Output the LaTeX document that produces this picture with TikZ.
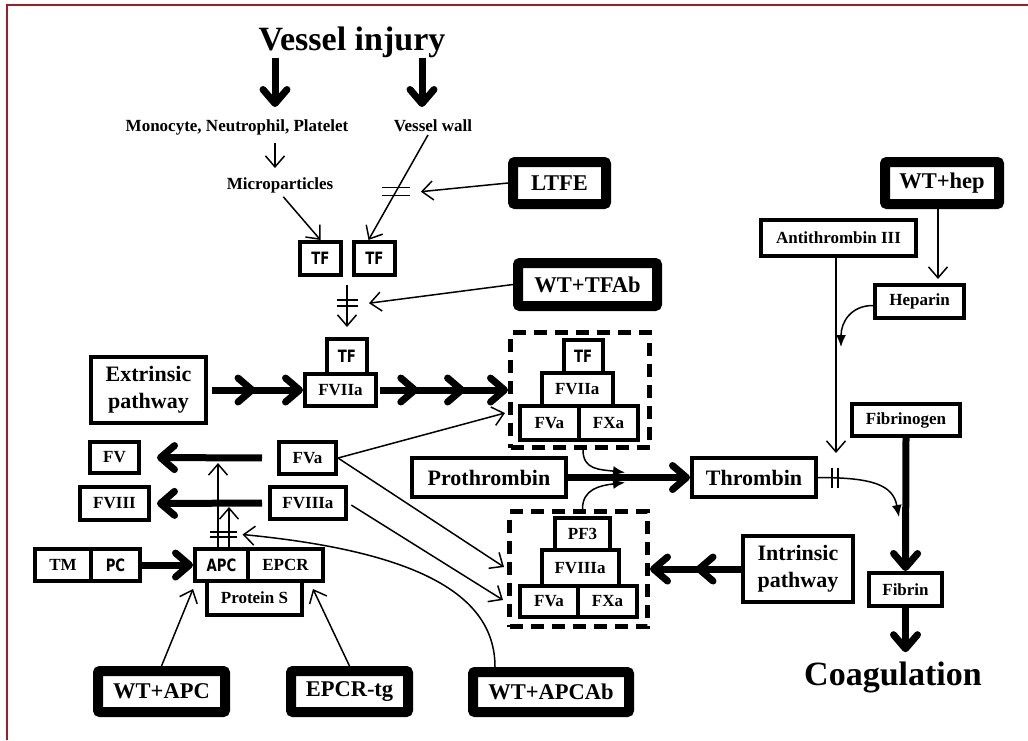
\documentclass[tikz,border=0pt]{standalone}
\usepackage{fontspec}
\setmainfont{Liberation Serif}
\setsansfont{Liberation Sans}
\newfontfamily\heavysf{DejaVu Sans}
\usepackage{graphicx}
\usetikzlibrary{arrows.meta,calc,decorations.markings}
\definecolor{framered}{RGB}{160,28,38}
\newcommand{\cnd}[1]{\scalebox{0.78}[1]{\fontsize{17}{20}\selectfont\heavysf\bfseries #1}}
\tikzset{
  box/.style={draw, line width=4pt, inner sep=0pt, font=\fontsize{17}{20}\selectfont\bfseries},
  bigbox/.style={box, align=center, font=\fontsize{22}{27}\selectfont\bfseries},
  drug/.style={draw, line width=10pt, rounded corners=2pt, inner sep=0pt, font=\fontsize{22.5}{26}\selectfont\bfseries},
  cplx/.style={draw, line width=5pt, dash pattern=on 13pt off 8pt, inner sep=0pt},
  sz/.style 2 args={minimum width=#1pt, minimum height=#2pt},
  lbl/.style={inner sep=0pt, text height=12pt, text depth=3.5pt, font=\fontsize{17}{20}\selectfont\bfseries},
  headline/.style={inner sep=0pt, font=\fontsize{34}{40}\selectfont\bfseries},
  arr/.style={line width=1.5pt, -{Straight Barb[length=11pt,width=19pt]}},
  bigarr/.style={line width=7pt, -{Straight Barb[length=14pt,width=24pt,round]}},
  curvarr/.style={line width=1.5pt, -{Latex[length=12pt,width=10pt]}},
  midtip/.style={postaction={decorate, decoration={markings,
      mark=at position #1 with {\arrow{Straight Barb[length=14pt,width=24pt,round]}}}}},
  cutbar/.style={line width=1.5pt},
}

\begin{document}
\begin{tikzpicture}[x=1pt, y=-1pt]
  \useasboundingbox (0,0) rectangle (1028,740);
  \draw[framered, line width=2.5pt] (7,740) -- (7,5) -- (1028,5);

  % vessel injury
  \node[headline, anchor=base] (injury) at (352,50) {Vessel injury};
  \node[lbl] (mono) at (237,127) {Monocyte, Neutrophil, Platelet};
  \node[lbl] (wall) at (433,127) {Vessel wall};
  \node[lbl] (micro) at (280,185) {Microparticles};
  \node[box, sz={41}{33}] (TFa) at (320.5,258.5) {\cnd{TF}};
  \node[box, sz={41}{33}] (TFb) at (374.5,258.5) {\cnd{TF}};
  \node[drug, sz={93}{42}] (LTFE) at (559.5,183) {LTFE};
  \node[drug, sz={139}{43}] (WTTFAb) at (587.5,284.5) {WT+TFAb};

  % extrinsic
  \node[box, sz={40}{35}] (TFc) at (347,356.5) {\cnd{TF}};
  \node[box, sz={71}{32}] (FVIIa) at (340.5,390) {FVIIa};
  \node[bigbox, sz={115}{66}] (Extr) at (148.5,390) {Extrinsic\\pathway};

  \node[cplx, sz={139}{115}] (cplxA) at (580,390) {};
  \node[box, sz={39.5}{33}] (cTF) at (583.25,356.5) {\cnd{TF}};
  \node[box, sz={70.5}{33}] (cFVIIa) at (577.25,389.5) {FVIIa};
  \node[box, sz={59.4}{34}] (cFVaA) at (549.3,423) {FVa};
  \node[box, sz={59}{34}] (cFXaA) at (608.5,423) {FXa};

  \node[cplx, sz={138}{115}] (cplxB) at (578.5,569) {};
  \node[box, sz={55.7}{32}] (cPF3) at (582.5,534) {PF3};
  \node[box, sz={76.8}{36}] (cFVIIIa) at (580.1,568) {FVIIIa};
  \node[box, sz={58.7}{31}] (cFVaB) at (549,601.5) {FVa};
  \node[box, sz={58.5}{31}] (cFXaB) at (607.5,601.5) {FXa};

  % protein C side
  \node[box, sz={57}{32}] (FVa) at (307.5,458) {FVa};
  \node[box, sz={76}{32}] (FVIIIa) at (308,503) {FVIIIa};
  \node[box, sz={49}{31}] (FV) at (114.5,457.5) {FV};
  \node[box, sz={69}{33}] (FVIII) at (114.5,503.5) {FVIII};
  \node[box, sz={56}{32}] (TM) at (63,565) {TM};
  \node[box, sz={49}{32}] (PC) at (115.5,565) {\cnd{PC}};
  \node[box, sz={53}{32}] (APC) at (221.5,565) {\cnd{APC}};
  \node[box, sz={75}{32}] (EPCR) at (285.5,565) {EPCR};
  \node[box, sz={95}{34}] (ProtS) at (254.5,598) {Protein S};
  \node[drug, sz={127}{41}] (WTAPC) at (161.5,691.5) {WT+APC};
  \node[drug, sz={117}{41}] (EPCRtg) at (349.5,691.5) {EPCR-tg};
  \node[drug, sz={156}{40}] (WTAPCAb) at (551,692) {WT+APCAb};

  % thrombin side
  \node[bigbox, sz={154}{39}] (Prothr) at (489,477.5) {Prothrombin};
  \node[bigbox, sz={124}{39}] (Thromb) at (754,477.5) {Thrombin};
  \node[bigbox, sz={110}{66}] (Intr) at (798,569) {Intrinsic\\pathway};
  \node[drug, sz={114}{42}] (WThep) at (942,183) {WT+hep};
  \node[box, sz={155}{36}] (AntiIII) at (838.5,238) {Antithrombin III};
  \node[box, sz={89}{33}] (Heparin) at (919.5,301.5) {Heparin};
  \node[box, sz={108}{32}] (Fbgn) at (906,420) {Fibrinogen};
  \node[box, sz={73}{33}] (Fibrin) at (905.5,589.5) {Fibrin};
  \node[headline, anchor=base] (coag) at (893,685) {Coagulation};

  \coordinate (vL) at (275,107);
  \coordinate (vR) at (422,107);
  \draw[bigarr] (injury.south -| vL) -- (vL);
  \draw[bigarr] (injury.south -| vR) -- (vR);
  \draw[arr, shorten <=8pt, shorten >=9pt] (mono.south -| vL) -- (micro.north -| vL);
  \draw[arr, shorten <=5pt] (micro.south) -- (TFa.north);
  \draw[arr] ([xshift=-5pt]wall.south) -- coordinate[pos=0.54] (cutwall) ([xshift=-6pt]TFb.north);
  \draw[cutbar] ($(cutwall)+(-14,-4)$) -- ++(28,0) ($(cutwall)+(-14,4)$) -- ++(28,0);
  \draw[arr] (LTFE.west) -- ([xshift=25pt]cutwall);

  \draw[arr, shorten >=10pt] ($(TFa.south -| TFc.north)+(0,8)$) -- coordinate[pos=0.35] (cuttf) (TFc.north);
  \draw[cutbar] ($(cuttf)+(-10.5,-3)$) -- ++(21,0) ($(cuttf)+(-10.5,3)$) -- ++(21,0);
  \draw[arr] (WTTFAb.west) -- ([xshift=22pt]cuttf);

  \draw[bigarr, midtip=0.5, shorten <=4pt] (Extr.east) -- (FVIIa.west);
  \draw[bigarr, midtip=0.31, midtip=0.67, shorten <=2pt] (FVIIa.east) -- (cplxA.west);

  \draw[bigarr, shorten <=15pt, shorten >=16pt] (FVa.west) -- (FV.east);
  \draw[bigarr, shorten <=6pt, shorten >=6pt] (FVIIIa.west) -- (FVIII.east);
  \draw[arr] (FVa.east) -- ([xshift=-3pt,yshift=-23pt]cplxA.west);
  \draw[arr] (FVa.east) -- ([xshift=-3pt,yshift=2pt]cplxB.west);
  \draw[arr, shorten <=4pt] (FVIIIa.east) -- ([xshift=-4pt,yshift=-31pt]cplxB.west);

  % APC inhibition
  \coordinate (upA) at (218,463);
  \coordinate (upB) at (229,507);
  \coordinate (cutapc) at (223.5,534.5);
  \draw[arr] (APC.north -| upA) -- (upA);
  \draw[arr] (APC.north -| upB) -- (upB);
  \draw[cutbar] ($(cutapc)+(-13.5,-2.5)$) -- ++(27,0) ($(cutapc)+(-13.5,2.5)$) -- ++(27,0);
  \draw[bigarr] (PC.east) -- (APC.west);
  \draw[arr] (WTAPC.north) -- ([yshift=-6pt]APC.south west);
  \draw[arr] (EPCRtg.north) -- ([xshift=-12pt,yshift=-6pt]EPCR.south east);
  \draw[arr] ([xshift=-56pt]WTAPCAb.north) .. controls +(0,-67) and +(187,18) .. ([xshift=19pt]cutapc);

  % prothrombin to fibrin
  \draw[bigarr] (Prothr.east) -- (Thromb.west);
  \coordinate (mid) at ($(Prothr.east)!0.5!(Thromb.west)$);
  \draw[curvarr] ([xshift=3pt]cplxA.south) .. controls +(0,20) and +(-25,-3) .. ([xshift=-4pt,yshift=5pt]mid);
  \draw[curvarr] ([xshift=4pt]cplxB.north) .. controls +(0,-20) and +(-25,3) .. ([xshift=-4pt,yshift=-5pt]mid);
  \draw[bigarr, midtip=0.5] (Intr.west) -- (cplxB.east);

  \coordinate (atTip) at (836,453);
  \coordinate (hepTip) at (841,347);
  \coordinate (hepIn) at (938,279);
  \coordinate (fibTip) at (899,517);
  \coordinate (cutthr) at (835,477.5);
  \draw[arr] (AntiIII.south -| atTip) -- (atTip);
  \draw[arr] (WThep.south -| hepIn) -- (hepIn);
  \draw[curvarr] ([yshift=-4pt]Heparin.west) .. controls +(-22,0) and +(0,-25) .. (hepTip);
  \draw[curvarr] (Thromb.east) .. controls +(55,0) and +(-6,-32) .. (fibTip);
  \draw[cutbar] ($(cutthr)+(-3,-10)$) -- ++(0,20) ($(cutthr)+(3,-10)$) -- ++(0,20);
  \draw[bigarr] (Fbgn.south) -- (Fibrin.north);
  \draw[bigarr, shorten >=9pt] (Fibrin.south) -- (Fibrin.south |- coag.north);
\end{tikzpicture}
\end{document}
